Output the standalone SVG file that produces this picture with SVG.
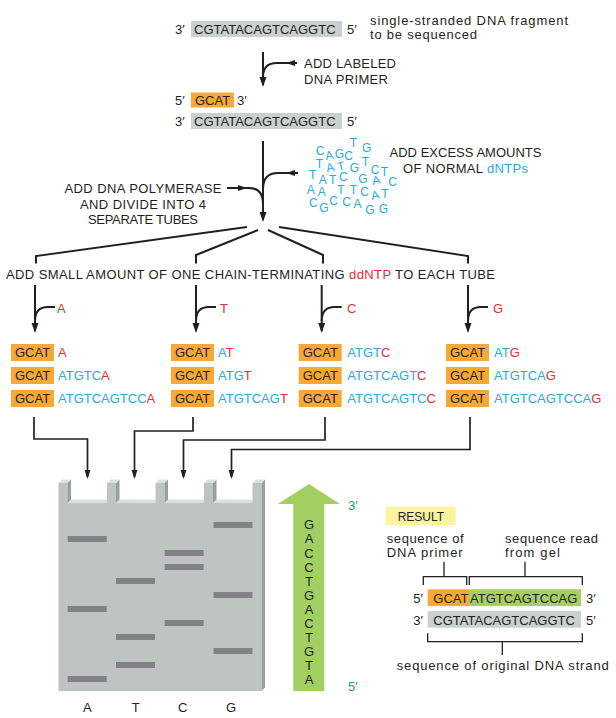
<svg xmlns="http://www.w3.org/2000/svg" width="616" height="718" viewBox="0 0 616 718">
<defs>
<style>
text{font-family:"Liberation Sans",Arial,Helvetica,sans-serif;font-size:13px;fill:#231F20}
.bl{fill:#27AAE1}
.rd{fill:#ED2B30}
.gn{fill:#1BA35B}
.ln{fill:none;stroke:#231F20;stroke-width:2}
.ln2{fill:none;stroke:#231F20;stroke-width:1.7}
.br{fill:none;stroke:#231F20;stroke-width:1.3}
.og{fill:#F8A935}
.gy{fill:#C9D1CE}
.band{fill:#808285}
.front{fill:#BDC4C1}
.lite{fill:#DCE1DE}
.side{fill:#9A9FA0}
.mid{text-anchor:middle}
#dntps text{font-size:12px;fill:#27AAE1;text-anchor:middle}
</style>
<marker id="ah" markerUnits="userSpaceOnUse" markerWidth="11" markerHeight="8" refX="8" refY="3.5" orient="auto"><path d="M0,0 L10,3.5 L0,7 Z" fill="#231F20"/></marker>
<marker id="ahs" markerUnits="userSpaceOnUse" markerWidth="10" markerHeight="7" refX="7" refY="3" orient="auto"><path d="M0,0 L9,3 L0,6 Z" fill="#231F20"/></marker>
</defs>

<g id="template">
<text x="175" y="33.5">3′</text>
<rect class="gy" x="191" y="21" width="151" height="16"/>
<text x="194" y="33.5">CGTATACAGTCAGGTC</text>
<text x="347" y="33.5">5′</text>
<text x="370" y="24.5" textLength="198">single-stranded DNA fragment</text>
<text x="370" y="38.5" textLength="107">to be sequenced</text>
</g>

<g id="primer-label">
<text x="304" y="68" textLength="92">ADD LABELED</text>
<text x="304" y="84" textLength="84">DNA PRIMER</text>
</g>

<g id="primed-template">
<text x="175" y="105">5′</text>
<rect class="og" x="191" y="92.5" width="43" height="15"/>
<text x="195" y="105">GCAT</text>
<text x="237" y="105">3′</text>
<text x="175" y="125.5">3′</text>
<rect class="gy" x="191" y="113" width="151" height="16"/>
<text x="194" y="125.5">CGTATACAGTCAGGTC</text>
<text x="347" y="125.5">5′</text>
</g>

<g id="dntps">
<text x="320" y="155">C</text>
<text x="329.3" y="159.3" transform="rotate(-10 329.3 155)">A</text>
<text x="339.3" y="158.3">G</text>
<text x="353.3" y="146.7">T</text>
<text x="348.5" y="159.7">C</text>
<text x="366.7" y="151.6">G</text>
<text x="319.3" y="167.6">T</text>
<text x="330" y="171.6" transform="rotate(-12 330 167)">A</text>
<text x="341" y="170.3" transform="rotate(-12 341 166)">T</text>
<text x="354.5" y="171.5">G</text>
<text x="365.5" y="166">T</text>
<text x="375" y="173.6">C</text>
<text x="384.5" y="176">T</text>
<text x="312.7" y="179.3">T</text>
<text x="322.7" y="183.6">A</text>
<text x="332.7" y="183.6">T</text>
<text x="343.3" y="181">C</text>
<text x="363" y="182.8">G</text>
<text x="376" y="184.3" transform="rotate(-12 376 180)">A</text>
<text x="392.5" y="186">C</text>
<text x="310.7" y="194.3">A</text>
<text x="321.7" y="196">A</text>
<text x="341" y="194.3">T</text>
<text x="353.3" y="193.6">T</text>
<text x="364.5" y="195.5">C</text>
<text x="375" y="199.3" transform="rotate(-12 375 195)">A</text>
<text x="385" y="197.6">T</text>
<text x="313.3" y="207">C</text>
<text x="324" y="212.3">G</text>
<text x="333.5" y="205">C</text>
<text x="346.7" y="206">C</text>
<text x="357.5" y="207.5">A</text>
<text x="370" y="213.6">G</text>
<text x="383.3" y="212.6">G</text>
</g>

<g id="dntp-label">
<text class="mid" x="465.5" y="157.3" textLength="152">ADD EXCESS AMOUNTS</text>
<text class="mid" x="465.5" y="172.7" textLength="125">OF NORMAL <tspan class="bl">dNTPs</tspan></text>
</g>

<g id="polymerase-label">
<text class="mid" x="143" y="193" textLength="157">ADD DNA POLYMERASE</text>
<text class="mid" x="143" y="208.5" textLength="126">AND DIVIDE INTO 4</text>
<text class="mid" x="143" y="223.5" textLength="110">SEPARATE TUBES</text>
</g>

<g id="ddntp-label">
<text x="6" y="279" textLength="489">ADD SMALL AMOUNT OF ONE CHAIN-TERMINATING <tspan class="rd">ddNTP</tspan> TO EACH TUBE</text>
</g>

<g id="ddntp-letters">
<text class="rd" x="57" y="313">A</text>
<text class="rd" x="220" y="313">T</text>
<text class="rd" x="347" y="313">C</text>
<text class="rd" x="493" y="313">G</text>
</g>

<g id="tube-A">
<rect class="og" x="11" y="344" width="43" height="17"/><text x="15" y="357.2">GCAT</text><text x="58" y="357.2" class="rd">A</text>
<rect class="og" x="11" y="367" width="43" height="17"/><text x="15" y="380.4">GCAT</text><text x="58" y="380.4" class="bl">ATGTC<tspan class="rd">A</tspan></text>
<rect class="og" x="11" y="390" width="43" height="17"/><text x="15" y="403.4">GCAT</text><text x="58" y="403.4" class="bl">ATGTCAGTCC<tspan class="rd">A</tspan></text>
</g>
<g id="tube-T">
<rect class="og" x="171" y="344" width="43" height="17"/><text x="175" y="357.2">GCAT</text><text x="218" y="357.2" class="bl">A<tspan class="rd">T</tspan></text>
<rect class="og" x="171" y="367" width="43" height="17"/><text x="175" y="380.4">GCAT</text><text x="218" y="380.4" class="bl">ATG<tspan class="rd">T</tspan></text>
<rect class="og" x="171" y="390" width="43" height="17"/><text x="175" y="403.4">GCAT</text><text x="218" y="403.4" class="bl">ATGTCAG<tspan class="rd">T</tspan></text>
</g>
<g id="tube-C">
<rect class="og" x="298.7" y="344" width="43" height="17"/><text x="302.7" y="357.2">GCAT</text><text x="347.3" y="357.2" class="bl">ATGT<tspan class="rd">C</tspan></text>
<rect class="og" x="298.7" y="367" width="43" height="17"/><text x="302.7" y="380.4">GCAT</text><text x="347.3" y="380.4" class="bl">ATGTCAGT<tspan class="rd">C</tspan></text>
<rect class="og" x="298.7" y="390" width="43" height="17"/><text x="302.7" y="403.4">GCAT</text><text x="347.3" y="403.4" class="bl">ATGTCAGTC<tspan class="rd">C</tspan></text>
</g>
<g id="tube-G">
<rect class="og" x="446" y="344" width="43" height="17"/><text x="450" y="357.2">GCAT</text><text x="494" y="357.2" class="bl">AT<tspan class="rd">G</tspan></text>
<rect class="og" x="446" y="367" width="43" height="17"/><text x="450" y="380.4">GCAT</text><text x="494" y="380.4" class="bl">ATGTCA<tspan class="rd">G</tspan></text>
<rect class="og" x="446" y="390" width="43" height="17"/><text x="450" y="403.4">GCAT</text><text x="494" y="403.4" class="bl">ATGTCAGTCCA<tspan class="rd">G</tspan></text>
</g>

<g id="connectors">
<path class="ln" d="M263,52 V85" marker-end="url(#ah)"/>
<path class="ln" d="M297,63 H288" marker-end="url(#ahs)"/>
<path class="ln" d="M289,63 H277 C268,63 263,67 263,77"/>
<path class="ln" d="M263,141 V220" marker-end="url(#ah)"/>
<path class="ln" d="M298,173 H288" marker-end="url(#ahs)"/>
<path class="ln" d="M289,173 H278 C268,173 263,178 263,189"/>
<path class="ln" d="M227,188 H245" marker-end="url(#ahs)"/>
<path class="ln" d="M244,188 H249 C258,188 263,193 263,204"/>
<path class="ln" d="M247,227 L36,256 V263.5"/>
<path class="ln" d="M258,230 L196,255 V263.5"/>
<path class="ln" d="M268,230 L323,255 V263.5"/>
<path class="ln" d="M279,227 L468,256 V263.5"/>
<path class="ln" d="M35,285 V331" marker-end="url(#ah)"/>
<path class="ln" d="M55,307 H48 C40,307 35,311 35,321"/>
<path class="ln" d="M196,285 V331" marker-end="url(#ah)"/>
<path class="ln" d="M216,307 H209 C201,307 196,311 196,321"/>
<path class="ln" d="M321.7,285 V331" marker-end="url(#ah)"/>
<path class="ln" d="M341.7,307 H334.7 C326.7,307 321.7,311 321.7,321"/>
<path class="ln" d="M468,285 V331" marker-end="url(#ah)"/>
<path class="ln" d="M488,307 H481 C473,307 468,311 468,321"/>
<path class="ln2" d="M34,417 V439 H87.5 V477" marker-end="url(#ahs)"/>
<path class="ln2" d="M193,417 V431 H134.5 V477" marker-end="url(#ahs)"/>
<path class="ln2" d="M325,417 V440 H183.5 V477" marker-end="url(#ahs)"/>
<path class="ln2" d="M470,417 V449.5 H231.5 V477" marker-end="url(#ahs)"/>
</g>

<g id="gel">
<polygon class="lite" points="67.5,503 71,499.5 107,499.5 107,503"/>
<polygon class="lite" points="116,503 119.5,499.5 155.5,499.5 155.5,503"/>
<polygon class="lite" points="164.5,503 168,499.5 204,499.5 204,503"/>
<polygon class="lite" points="213,503 216.5,499.5 252.5,499.5 252.5,503"/>
<polygon class="front" points="58.5,691 58.5,483 67.5,483 67.5,503 107,503 107,483 116,483 116,503 155.5,503 155.5,483 164.5,483 164.5,503 204,503 204,483 213,483 213,503 252.5,503 252.5,483 261.5,483 261.5,691"/>
<polygon class="side" points="67.5,483 71,479.5 71,499.5 67.5,503"/>
<polygon class="side" points="116,483 119.5,479.5 119.5,499.5 116,503"/>
<polygon class="side" points="164.5,483 168,479.5 168,499.5 164.5,503"/>
<polygon class="side" points="213,483 216.5,479.5 216.5,499.5 213,503"/>
<polygon class="side" points="261.5,483 265,479.5 265,687.5 261.5,691"/>
<polygon class="lite" points="58.5,483 62,479.5 71,479.5 67.5,483"/>
<polygon class="lite" points="107,483 110.5,479.5 119.5,479.5 116,483"/>
<polygon class="lite" points="155.5,483 159,479.5 168,479.5 164.5,483"/>
<polygon class="lite" points="204,483 207.5,479.5 216.5,479.5 213,483"/>
<polygon class="lite" points="252.5,483 256,479.5 265,479.5 261.5,483"/>
<rect class="band" x="67.7" y="536" width="39" height="6"/>
<rect class="band" x="67.7" y="606" width="39" height="6"/>
<rect class="band" x="67.7" y="676" width="39" height="6"/>
<rect class="band" x="116" y="578" width="39" height="6"/>
<rect class="band" x="116" y="634" width="39" height="6"/>
<rect class="band" x="116" y="662" width="39" height="6"/>
<rect class="band" x="164.7" y="550" width="39" height="6"/>
<rect class="band" x="164.7" y="564" width="39" height="6"/>
<rect class="band" x="164.7" y="620" width="39" height="6"/>
<rect class="band" x="213.5" y="522" width="39" height="6"/>
<rect class="band" x="213.5" y="592" width="39" height="6"/>
<rect class="band" x="213.5" y="648" width="39" height="6"/>
<text class="mid" x="87.3" y="711.7">A</text>
<text class="mid" x="135.7" y="711.7">T</text>
<text class="mid" x="182.7" y="711.7">C</text>
<text class="mid" x="231" y="711.7">G</text>
</g>

<g id="read-arrow">
<polygon points="309,484 340,504 324.3,504 324.3,691 293.3,691 293.3,504 277.7,504" fill="#A3CF62"/>
<text class="mid" x="309" y="529.3">G</text>
<text class="mid" x="309" y="543.4">A</text>
<text class="mid" x="309" y="557.5">C</text>
<text class="mid" x="309" y="571.6">C</text>
<text class="mid" x="309" y="585.7">T</text>
<text class="mid" x="309" y="599.8">G</text>
<text class="mid" x="309" y="613.9">A</text>
<text class="mid" x="309" y="628">C</text>
<text class="mid" x="309" y="642.1">T</text>
<text class="mid" x="309" y="656.2">G</text>
<text class="mid" x="309" y="670.3">T</text>
<text class="mid" x="309" y="684.4">A</text>
<text class="gn" x="348" y="510">3′</text>
<text class="gn" x="348" y="691">5′</text>
</g>

<g id="result">
<rect x="385.7" y="506.7" width="70" height="18.3" fill="#FBF49C"/>
<text x="397.7" y="520.7" style="font-size:12px">RESULT</text>
<text x="386.7" y="542.7" textLength="77">sequence of</text>
<text x="386.7" y="557.3" textLength="76">DNA primer</text>
<text x="505" y="542.7" textLength="93">sequence read</text>
<text x="505" y="557.3" textLength="55">from gel</text>
<path class="br" d="M423.3,585 V576.7 H466.7 V585 M444,576.7 V561.7"/>
<path class="br" d="M469.3,585 V576.7 H582.3 V585 M525,576.7 V561.7"/>
<text x="413.3" y="602.7">5′</text>
<rect class="og" x="427.7" y="589.3" width="41.3" height="16.7"/>
<rect x="469" y="589.3" width="112" height="16.7" fill="#A6CE63"/>
<text x="433.3" y="602.7">GCAT</text>
<text x="470" y="602.7">ATGTCAGTCCAG</text>
<text x="586" y="602.7">3′</text>
<text x="413.3" y="624.5">3′</text>
<rect class="gy" x="427.7" y="611" width="153.3" height="16.7"/>
<text x="433.3" y="624.5">CGTATACAGTCAGGTC</text>
<text x="586" y="624.5">5′</text>
<path class="br" d="M427.7,633.3 V641.7 H582.3 V633.3 M502.3,641.7 V655"/>
<text x="396.7" y="670" textLength="212">sequence of original DNA strand</text>
</g>
</svg>
